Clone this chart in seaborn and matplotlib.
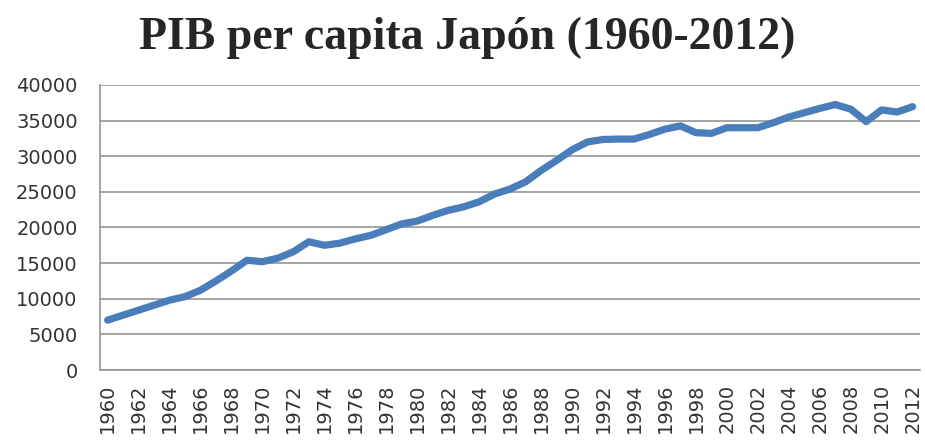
import numpy as np
import pandas as pd
import matplotlib
matplotlib.use("Agg")
import matplotlib.pyplot as plt
import seaborn as sns

# PIB per capita de Japón
years = list(range(1960, 2013))
gdp = [7000, 7700, 8400, 9100, 9800, 10300, 11200, 12500, 13900, 15400,
       15200, 15700, 16600, 18000, 17500, 17800, 18400, 18900, 19700, 20500,
       20900, 21700, 22400, 22900, 23600, 24700, 25400, 26400, 28000, 29400,
       30900, 32000, 32350, 32400, 32400, 33050, 33800, 34250, 33300, 33200,
       34000, 34000, 34000, 34700, 35500, 36100, 36700, 37250, 36600, 34850,
       36500, 36200, 36950]

df = pd.DataFrame({"year": years, "gdp": gdp})

sns.set_theme(style="white")
plt.rcParams["font.family"] = ["DejaVu Sans"]

fig = plt.figure(figsize=(9.25, 4.4), dpi=100)
ax = fig.add_axes([0.108, 0.159, 0.887, 0.648])

sns.lineplot(data=df, x="year", y="gdp", ax=ax, color="#4A7EBB",
             linewidth=5.2, solid_capstyle="round", solid_joinstyle="round")

ax.set_xlim(1959.5, 2012.5)
ax.set_ylim(0, 40000)
ax.set_yticks(np.arange(0, 40001, 5000))
ax.yaxis.grid(True, color="#8c8c8c", linewidth=1.1)
ax.set_xticks(years[::2])
ax.set_xticks(np.arange(1959.5, 2013, 1), minor=True)
ax.tick_params(axis="x", which="major", length=0, labelsize=14, rotation=90, pad=10)
ax.tick_params(axis="x", which="minor", length=6, width=1.1, color="#8c8c8c",
               direction="out")
ax.tick_params(axis="y", length=0, labelsize=14, pad=16)
for lab in ax.get_xticklabels() + ax.get_yticklabels():
    lab.set_color("#333333")

for side in ["top", "right"]:
    ax.spines[side].set_visible(False)
for side in ["left", "bottom"]:
    ax.spines[side].set_color("#8c8c8c")
    ax.spines[side].set_linewidth(1.1)

ax.set_xlabel("")
ax.set_ylabel("")

fig.text(0.505, 0.915, "PIB per capita Japón (1960-2012)", ha="center", va="center",
         fontsize=33, fontweight="bold", family=["Liberation Serif", "DejaVu Serif"])

fig.savefig("out.png", dpi=100)
